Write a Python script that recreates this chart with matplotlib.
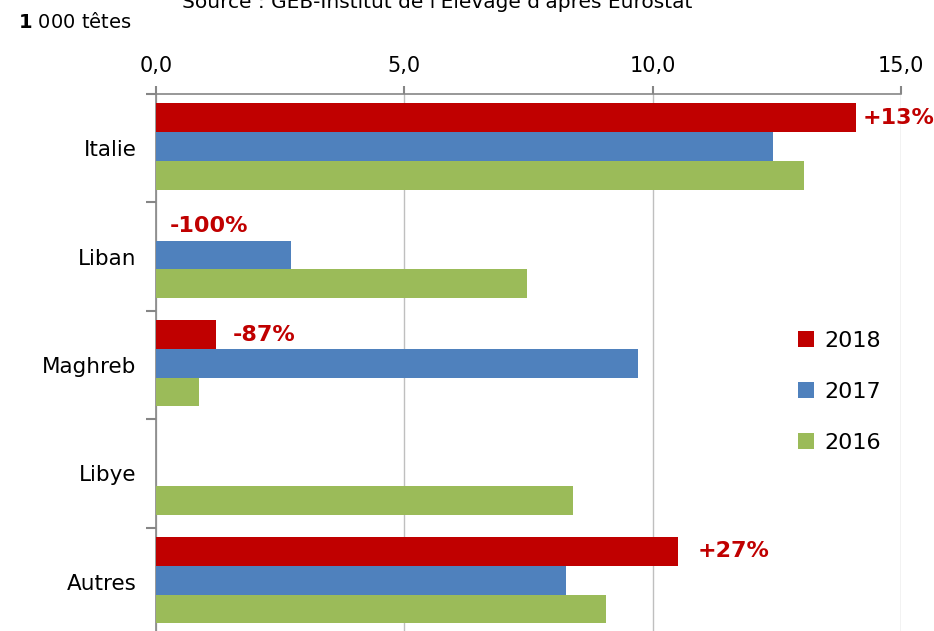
import numpy as np
import matplotlib
matplotlib.use("Agg")
import matplotlib.pyplot as plt

# data (1 000 tetes)
categories = ["Italie", "Liban", "Maghreb", "Libye", "Autres"]
years = ["2018", "2017", "2016"]
v2018 = [14.1, 0.0, 1.2, 0.0, 10.5]
v2017 = [12.42, 2.72, 9.7, 0.0, 8.25]
v2016 = [13.05, 7.47, 0.87, 8.4, 9.06]
evol = ["+13%", "-100%", "-87%", None, "+27%"]
xticks = [0, 5, 10, 15]

colors = ["#C00000", "#4F81BD", "#9BBB59"]
label_dx = [6, 14, 17, None, 20]   # px gap between bar end and label

fig = plt.figure(figsize=(9.34, 6.31), dpi=100)
ax = fig.add_axes([156 / 934, -5 / 631, 745 / 934, 542 / 631])

y = np.arange(len(categories)) - 0.015
h = 0.265
series = [v2018, v2017, v2016]
for k, vals in enumerate(series):
    ax.barh(y + (k - 1) * h, vals, height=h, color=colors[k], label=years[k], zorder=3)

# evolution labels next to 2018 bars
for i, txt in enumerate(evol):
    if txt is None:
        continue
    ax.annotate(txt, (v2018[i], y[i] - h), xytext=(label_dx[i] * 0.72, 0),
                textcoords="offset points", color="#C00000", fontsize=16,
                fontweight="bold", va="center", ha="left", zorder=4)

ax.set_xlim(0, 15)
ax.set_ylim(len(categories) - 0.5, -0.5)
ax.xaxis.tick_top()
ax.set_xticks(xticks)
ax.set_xticklabels([f"{t:.1f}".replace(".", ",") for t in xticks], fontsize=15)
ax.tick_params(axis="x", colors="#868686", labelcolor="black", length=6, width=1.5, pad=7)
ax.grid(axis="x", color="#BFBFBF", lw=1, zorder=0)

ax.set_yticks(np.arange(len(categories) + 1) - 0.5)
ax.set_yticklabels([])
ax.set_yticks(np.arange(len(categories)), minor=True)
ax.set_yticklabels(categories, minor=True, fontsize=15.5, fontweight="medium")
ax.tick_params(axis="y", which="major", colors="#868686", length=7, width=1.5)
ax.tick_params(axis="y", which="minor", length=0, pad=14)

for s in ["right", "bottom"]:
    ax.spines[s].set_visible(False)
ax.spines["top"].set_color("#868686")
ax.spines["left"].set_color("#868686")
ax.spines["top"].set_linewidth(1.2)
ax.spines["left"].set_linewidth(1.2)

leg = ax.legend(loc="upper left", bbox_to_anchor=(0.835, 0.6), frameon=False,
                fontsize=16, handlelength=0.7, handleheight=0.7, labelspacing=1.4,
                handletextpad=0.5)

fig.text(18 / 934, 1 - 22 / 631, r"$\mathbf{1}$ 000 têtes", fontsize=14, va="center")
fig.text(437 / 934, 1 - 8 / 631, "Source : GEB-Institut de l'Elevage d'après Eurostat",
         fontsize=14.5, ha="center", va="baseline")

fig.savefig("out.png", dpi=100)
